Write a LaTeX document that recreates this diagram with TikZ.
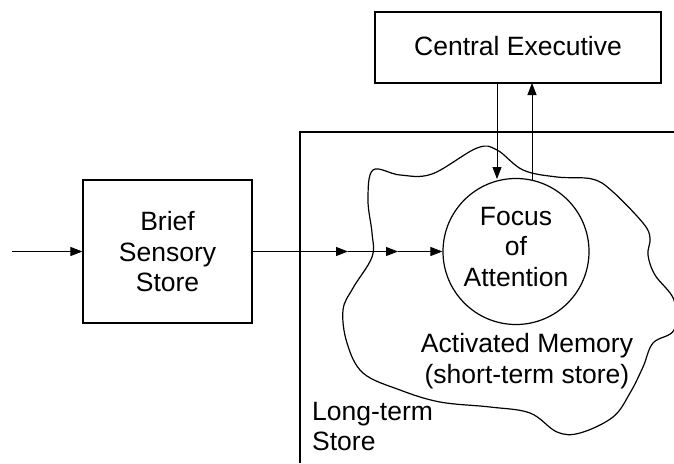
\documentclass[tikz,border=0pt]{standalone}
\usepackage{fontspec}
\setmainfont{Liberation Sans}
\usetikzlibrary{arrows.meta}
\begin{document}
\begin{tikzpicture}[x=1pt,y=-1pt,
  lbl/.style={font=\fontsize{26.5}{30.5}\selectfont, align=center, inner sep=0pt},
  box/.style={draw, line width=1.2pt, inner sep=0pt},
  conn/.style={line width=0.9pt, -{Triangle[length=12pt,width=9pt]}},
  border/.style={line width=1.2pt}]
\useasboundingbox (0,0) rectangle (674,463);
% Central executive
\node[box, minimum width=286pt, minimum height=71pt] (ce) at (518,47.5) {};
\node[lbl] (cetext) at (518,46) {Central Executive};
% Brief sensory store
\node[box, minimum width=169pt, minimum height=143pt] (bss) at (167.5,251.5) {};
\node[lbl] (bsstext) at (167.5,252) {Brief\\Sensory\\Store};
% long-term store frame
\draw[border] (674,132) -- (300,132) -- (300,463);
\node[lbl, align=left, anchor=north west] (lts) at (312,402) {Long-term\\Store};
% cloud
\draw[border] plot[smooth cycle, tension=0.6] coordinates {
 (373,170) (400,175) (432,174) (477,148) (497,150) (523,170) (557,177) (592,179)
 (612,191) (643,223) (650,238) (648,255) (655,275) (674,300) (674,330) (653,343)
 (643,367) (630,393) (613,417) (580,433) (557,432) (530,413) (490,407) (440,402)
 (400,390) (363,373) (347,343) (343,310) (353,288) (372,257) (372,233) (368,200)};
\node[lbl] (am) at (527,361) {Activated Memory\\(short-term store)};
% focus circle
\node[circle, draw, line width=1.2pt, minimum size=146pt, inner sep=0pt] (foc) at (516,251.5) {};
\node[lbl] (foctext) at (516,247) {Focus\\of\\Attention};
% input
\coordinate (in) at (12,251.5);
\draw[conn] (in) -- (bss.west);
\coordinate (m1) at (348,251.5);
\coordinate (m2) at (398,251.5);
\draw[conn] (bss.east) -- (m1);
\draw[conn] (m1) -- (m2);
\draw[conn] (m2) -- (foc.west);
% executive arrows
\coordinate (d1) at (497,83);
\coordinate (d2) at (497,179);
\coordinate (u1) at (532,180);
\coordinate (u2) at (532,83);
\draw[conn] (d1) -- (d2);
\draw[conn] (u1) -- (u2);
\end{tikzpicture}
\end{document}
